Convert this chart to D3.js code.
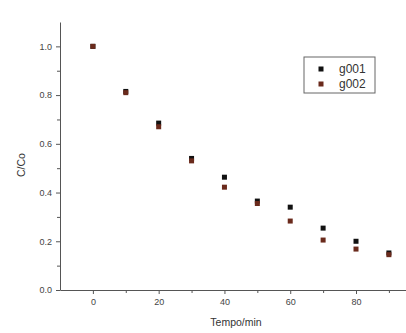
<!DOCTYPE html>
<html lang="en">
<head>
<meta charset="utf-8">
<title>C/Co vs Tempo</title>
<script src="https://cdn.jsdelivr.net/npm/d3@7"></script>
<style>
  body { margin: 0; background: #ffffff; }
  .tick text { font-family: "Liberation Sans", Arial, sans-serif; font-size: 9px; fill: #444; }
  .axis path, .axis line { stroke: #555; }
  .axis_label { font-family: "Liberation Sans", Arial, sans-serif; font-size: 10.5px; fill: #333; }
  .legend_text { font-family: "Liberation Sans", Arial, sans-serif; font-size: 12px; fill: #333; }
</style>
</head>
<body>
<script>
// data
var tempo = [0, 10, 20, 30, 40, 50, 60, 70, 80, 90];
var g001 = [1.0, 0.815, 0.685, 0.54, 0.463, 0.365, 0.34, 0.254, 0.2, 0.152];
var g002 = [1.0, 0.81, 0.67, 0.53, 0.422, 0.355, 0.283, 0.205, 0.168, 0.145];
var seriesNames = ["g001", "g002"];
var seriesColors = ["#111111", "#6a2a1c"];
var xTicks = [0, 20, 40, 60, 80];
var yTicks = [0.0, 0.2, 0.4, 0.6, 0.8, 1.0];

var svgWidth = 406, svgHeight = 333;
var plotLeft = 60, plotBottom = 290, plotTop = 22, plotRight = 406;

var svg = d3.select("body").append("svg")
    .attr("width", svgWidth)
    .attr("height", svgHeight);

var x = d3.scaleLinear().domain([-10, 95.2]).range([plotLeft, plotRight]);
var y = d3.scaleLinear().domain([0, 1.1]).range([plotBottom, plotTop]);

// minor ticks
svg.append("g").attr("class", "axis")
    .attr("transform", "translate(0," + plotBottom + ")")
    .call(d3.axisBottom(x).tickValues([10, 30, 50, 70, 90]).tickSize(3).tickFormat(""))
    .select(".domain").remove();
svg.append("g").attr("class", "axis")
    .attr("transform", "translate(" + plotLeft + ",0)")
    .call(d3.axisLeft(y).tickValues([0.1, 0.3, 0.5, 0.7, 0.9]).tickSize(3).tickFormat(""))
    .select(".domain").remove();

var xAxis = svg.append("g").attr("class", "axis")
    .attr("transform", "translate(0," + plotBottom + ")")
    .call(d3.axisBottom(x).tickValues(xTicks).tickSize(4).tickSizeOuter(0).tickPadding(5));

var yAxis = svg.append("g").attr("class", "axis")
    .attr("transform", "translate(" + plotLeft + ",0)")
    .call(d3.axisLeft(y).tickValues(yTicks).tickSize(4).tickSizeOuter(0).tickPadding(4)
        .tickFormat(d3.format(".1f")));

// axis titles
svg.append("text").attr("class", "axis_label")
    .attr("x", 236).attr("y", 326)
    .attr("text-anchor", "middle")
    .text("Tempo/min");
svg.append("text").attr("class", "axis_label")
    .attr("transform", "translate(25,165) rotate(-90)")
    .attr("text-anchor", "middle")
    .text("C/Co");

// points
var size = 5;
[g001, g002].forEach(function(vals, s) {
  svg.append("g").selectAll("rect")
    .data(vals)
    .enter()
    .append("rect")
    .attr("x", function(d, i) { return x(tempo[i]) - size / 2; })
    .attr("y", function(d) { return y(d) - size / 2; })
    .attr("width", size)
    .attr("height", size)
    .attr("fill", seriesColors[s]);
});

// legend
var legend = svg.append("g");
legend.append("rect")
    .attr("x", 304).attr("y", 57)
    .attr("width", 71).attr("height", 36)
    .attr("fill", "none")
    .attr("stroke", "#666")
    .attr("stroke-width", 1);
seriesNames.forEach(function(name, i) {
  legend.append("rect")
      .attr("x", 321 - 2.5).attr("y", 69 + i * 15 - 2.5)
      .attr("width", 5).attr("height", 5)
      .attr("fill", seriesColors[i]);
  legend.append("text").attr("class", "legend_text")
      .attr("x", 339).attr("y", 73 + i * 15)
      .text(name);
});
</script>
</body>
</html>
